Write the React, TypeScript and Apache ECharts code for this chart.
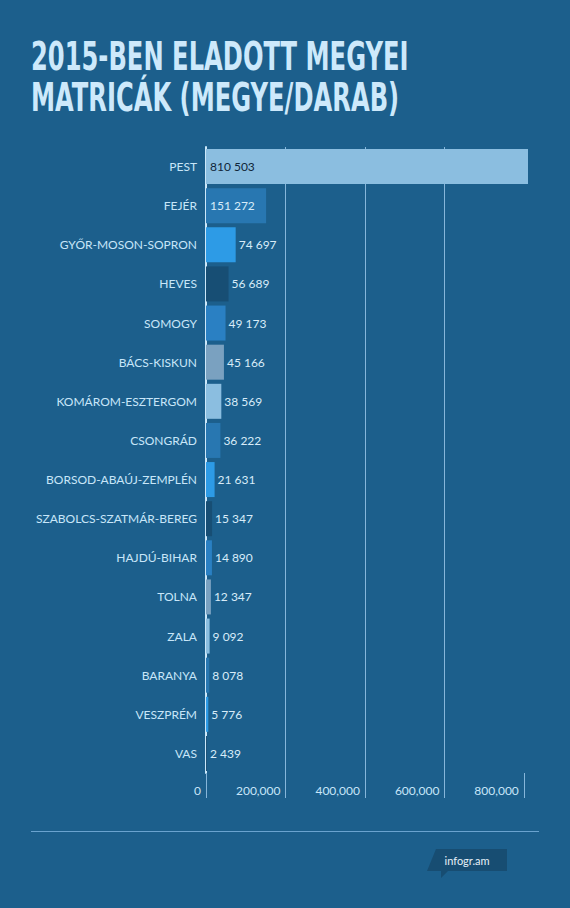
import React, { useEffect, useRef } from "react";
import * as echarts from "echarts";

const titleLines = ["2015-BEN ELADOTT MEGYEI", "MATRICÁK (MEGYE/DARAB)"];

const counties = [
  "PEST",
  "FEJÉR",
  "GYŐR-MOSON-SOPRON",
  "HEVES",
  "SOMOGY",
  "BÁCS-KISKUN",
  "KOMÁROM-ESZTERGOM",
  "CSONGRÁD",
  "BORSOD-ABAÚJ-ZEMPLÉN",
  "SZABOLCS-SZATMÁR-BEREG",
  "HAJDÚ-BIHAR",
  "TOLNA",
  "ZALA",
  "BARANYA",
  "VESZPRÉM",
  "VAS",
];

const sold = [
  810503, 151272, 74697, 56689, 49173, 45166, 38569, 36222, 21631, 15347,
  14890, 12347, 9092, 8078, 5776, 2439,
];

const tickValues = [0, 200000, 400000, 600000, 800000];

const palette = ["#8bbee0", "#2877b1", "#2d9be6", "#174e74", "#2a80c3", "#7aa1c0"];

const BG = "#1c5f8c";
const LIGHT = "#c8e6f9";

const fmtSpace = (v: number) => String(v).replace(/\B(?=(\d{3})+(?!\d))/g, " ");
const fmtComma = (v: number) => String(v).replace(/\B(?=(\d{3})+(?!\d))/g, ",");

export default function App() {
  const ref = useRef<HTMLDivElement>(null);

  useEffect(() => {
    if (!ref.current) return;
    const chart = echarts.init(ref.current, null, { renderer: "svg" });

    const data = sold.map((v, i) => {
      const inside = v > 100000;
      return {
        value: v,
        itemStyle: { color: palette[i % palette.length] },
        label: {
          position: inside ? "insideLeft" : "right",
          distance: inside ? 4 : 3,
          color: i === 0 ? "#10263a" : "#d8ecf9",
        },
      };
    });

    chart.setOption({
      animation: false,
      backgroundColor: BG,
      textStyle: { fontFamily: "Lato, 'Noto Sans', sans-serif" },
      graphic: [
        {
          type: "text",
          x: 31,
          y: 36,
          scaleX: 0.69,
          style: {
            text: titleLines.join("\n"),
            font: "bold 39px 'Liberation Sans Narrow', 'DejaVu Sans Condensed', sans-serif",
            lineHeight: 41,
            fill: "#cde9fb",
          },
        },
        {
          type: "line",
          shape: { x1: 31, y1: 831.5, x2: 539, y2: 831.5 },
          style: { stroke: "#6aa3cf", lineWidth: 1 },
        },
        {
          type: "polygon",
          shape: {
            points: [
              [436, 849],
              [507, 849],
              [507, 871],
              [448, 871],
              [441, 878],
              [441, 871],
              [427, 871],
            ],
          },
          style: { fill: "#174d72" },
        },
        {
          type: "text",
          x: 467,
          y: 860,
          style: {
            text: "infogr.am",
            font: "11px 'Liberation Sans Narrow', Lato, sans-serif",
            fill: "#e6f0f7",
            align: "center",
            verticalAlign: "middle",
          },
        },
      ],
      grid: { left: 206, right: 42, top: 147, bottom: 135, containLabel: false },
      xAxis: {
        type: "value",
        min: 0,
        max: sold[0],
        interval: 200000,
        axisLine: { show: false },
        axisTick: {
          show: true,
          length: 25,
          customValues: tickValues,
          lineStyle: { color: "#86b6da", width: 1 },
        },
        splitLine: {
          show: true,
          showMaxLine: false,
          lineStyle: { color: "#86b6da", width: 1 },
        },
        axisLabel: {
          customValues: tickValues,
          margin: 11,
          align: "right",
          padding: [0, 5, 0, 0],
          fontSize: 12,
          color: LIGHT,
          formatter: (v: number) => fmtComma(v),
        },
      },
      yAxis: {
        type: "category",
        data: counties,
        inverse: true,
        axisLine: { show: true, lineStyle: { color: "#cbe7f9", width: 2 } },
        axisTick: { show: false },
        axisLabel: { margin: 9, fontSize: 12, color: LIGHT },
      },
      series: [
        {
          type: "bar",
          data,
          barWidth: 35,
          label: {
            show: true,
            fontSize: 12,
            formatter: (p: any) => fmtSpace(p.value),
          },
        },
      ],
    });

    return () => chart.dispose();
  }, []);

  return (
    <div
      ref={ref}
      style={{ position: "absolute", left: 0, top: 0, width: 570, height: 908 }}
    />
  );
}
